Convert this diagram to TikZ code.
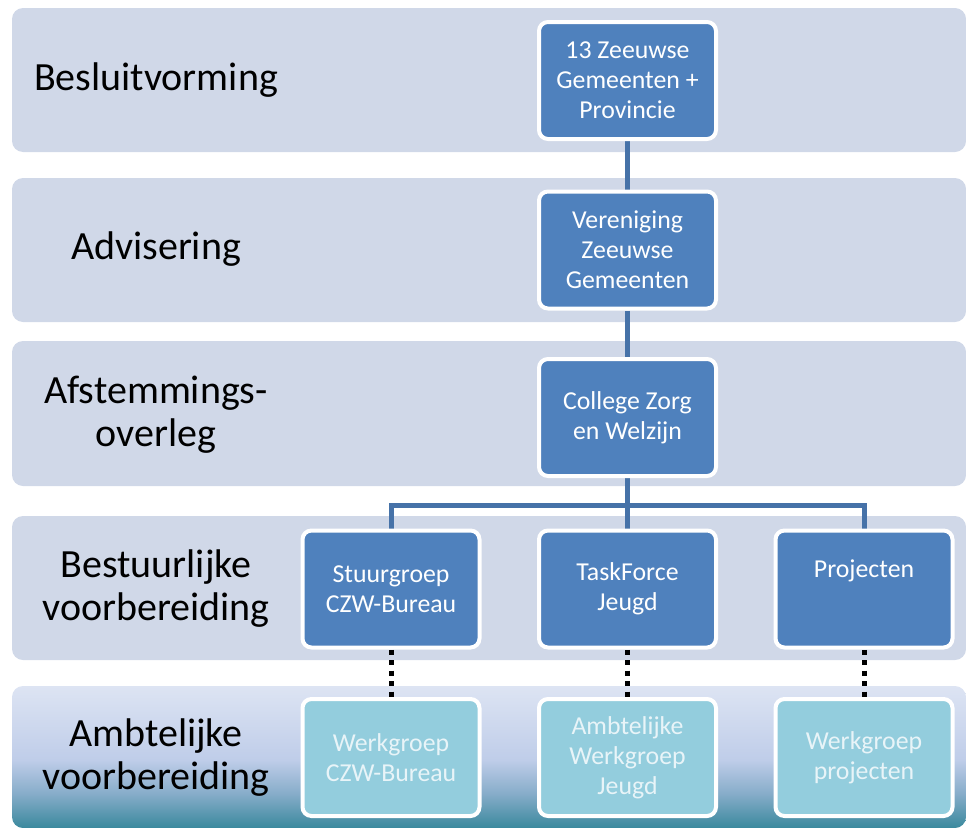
\documentclass[tikz,border=0pt]{standalone}
\usepackage{fontspec}
\setmainfont{Carlito}
\definecolor{bandc}{HTML}{D0D8E8}
\definecolor{boxc}{HTML}{4F81BD}
\definecolor{boxlc}{HTML}{93CDDD}
\definecolor{linec}{HTML}{4672A8}
\definecolor{paletext}{HTML}{E8F4F8}
\definecolor{tA}{HTML}{3A899D}
\definecolor{tB}{HTML}{86ACC9}
\definecolor{tC}{HTML}{BFCDE9}
\definecolor{tD}{HTML}{DDE4F3}
\pgfdeclareverticalshading{bandfive}{100bp}{color(0bp)=(tA); color(25bp)=(tA); color(37bp)=(tB); color(49bp)=(tC); color(75bp)=(tD); color(100bp)=(tD)}
\pgfdeclarelayer{bg}
\pgfdeclarelayer{lines}
\pgfsetlayers{bg,lines,main}
\tikzset{
  band/.style={rounded corners=11pt, minimum width=954pt, minimum height=144pt, inner sep=0pt, outer sep=0pt},
  rowlabel/.style={align=center, font=\fontsize{40}{43}\selectfont, text=black, inner sep=0pt},
  orgbox/.style={draw=white, line width=4pt, rounded corners=9pt, fill=boxc, text=white,
    minimum width=177pt, minimum height=117pt, align=center, inner sep=0pt,
    font=\fontsize{25.8}{30}\selectfont},
  workbox/.style={orgbox, fill=boxlc, text=paletext},
  conn/.style={draw=linec, line width=5pt},
  dotconn/.style={draw=black, line width=5pt, dash pattern=on 5pt off 5.5pt},
}
\begin{document}
\begin{tikzpicture}[x=1pt,y=-1pt]
\useasboundingbox (0,0) rectangle (966,827);
\begin{pgfonlayer}{bg}
\node[band, fill=bandc] (band1) at (489,80) {};
\node[band, fill=bandc] (band2) at (489,250) {};
\node[band, fill=bandc, minimum height=145pt] (band3) at (489,413.5) {};
\node[band, fill=bandc] (band4) at (489,588) {};
\node[band, shading=bandfive, minimum height=142pt] (band5) at (489,757) {};
\end{pgfonlayer}

\node[rowlabel] (l1) at (156,80) {Besluitvorming};
\node[rowlabel] (l2) at (156,249) {Advisering};
\node[rowlabel] (l3) at (156,415) {Afstemmings-\\overleg};
\node[rowlabel] (l4) at (156,589) {Bestuurlijke\\voorbereiding};
\node[rowlabel] (l5) at (156,758) {Ambtelijke\\voorbereiding};

\node[orgbox] (b1) at (627.5,80.5) {13 Zeeuwse\\Gemeenten +\\Provincie};
\node[orgbox] (b2) at (627.5,250) {Vereniging\\Zeeuwse\\Gemeenten};
\node[orgbox] (b3) at (627.5,417.5) {College Zorg\\en Welzijn};
\node[orgbox] (b4l) at (391,589) {Stuurgroep\\CZW-Bureau};
\node[orgbox] (b4m) at (627.5,589) {TaskForce\\Jeugd};
\node[orgbox] (b4r) at (864,589) {Projecten\\[10pt]\mbox{}};
\node[workbox] (b5l) at (391,757.5) {Werkgroep\\CZW-Bureau};
\node[workbox] (b5m) at (627.5,757.5) {Ambtelijke\\Werkgroep\\Jeugd};
\node[workbox] (b5r) at (864,757.5) {Werkgroep\\projecten};

\coordinate (bus) at (627.5,505);
\begin{pgfonlayer}{lines}
\draw[conn] (b1.south) -- (b2.north);
\draw[conn] (b2.south) -- (b3.north);
\draw[conn] (b3.south) -- (bus);
\draw[conn] (bus) -- (b4m.north);
\draw[conn] (b4l.north) |- (bus) -| (b4r.north);
\draw[dotconn] (b4l.south) -- (b5l.north);
\draw[dotconn] (b4m.south) -- (b5m.north);
\draw[dotconn] (b4r.south) -- (b5r.north);
\end{pgfonlayer}
\end{tikzpicture}
\end{document}
